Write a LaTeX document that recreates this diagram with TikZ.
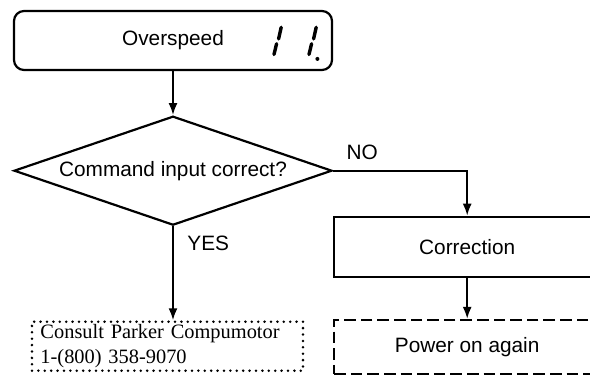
\documentclass[tikz,border=0pt]{standalone}
\usepackage{fontspec}
\setmainfont{Liberation Serif}
\setsansfont{Liberation Sans}
\usetikzlibrary{arrows.meta, positioning, shapes.geometric}

\begin{document}
\begin{tikzpicture}[
    x=1pt, y=1pt,
    box/.style={rectangle, draw, line width=1.1pt, inner sep=0pt, align=center,
                font=\sffamily\fontsize{10.4pt}{12.5pt}\selectfont},
    status/.style={box, rounded corners=5pt, minimum width=159pt, minimum height=29.5pt},
    decision/.style={box, diamond, aspect=2.92, minimum width=159pt, minimum height=54.5pt},
    action/.style={box, minimum width=133pt, minimum height=30pt},
    restart/.style={box, dash pattern=on 5.8pt off 2.5pt, minimum width=133pt,
                    minimum height=27pt},
    contact/.style={rectangle, draw, line width=1.4pt, line cap=round,
                    dash pattern=on 0pt off 3.2pt, align=left, text width=127pt,
                    inner xsep=4.25pt, inner ysep=1pt, minimum height=24.5pt,
                    font=\rmfamily\fontsize{10.2pt}{12.5pt}\selectfont},
    tag/.style={inner sep=0pt, font=\sffamily\fontsize{10.4pt}{12.5pt}\selectfont},
    seg/.style={line width=1.7pt, line cap=round},
    arrow/.style={-{Latex[length=6pt,width=4.5pt]}, line width=1pt},
]
    \useasboundingbox (-86.5,20.25) rectangle (208.5,-167.25);

    \node[status]   (ovs)  at (0,0)                          {Overspeed};
    \node[decision] (cmd)  [below=22pt of ovs]               {Command input correct?};
    \node[action]   (fix)  [below right=22.5pt and 0pt of cmd.east] {Correction};
    \node[restart]  (pwr)  [below=20.5pt of fix]             {Power on again};
    \node[contact]  (call) [below=47pt of cmd, xshift=-2.75pt]
        {Consult Parker Compumotor\\1-(800) 358-9070};

    \node[tag, anchor=south west] (no)  [above right=5.5pt and 6.5pt of cmd.east] {NO};
    \node[tag, anchor=north west] (yes) [below right=4.5pt and 7pt of cmd.south]  {YES};

    % display segments
    \foreach \dx in {0,17.5} {
        \draw[seg] (54.1+\dx,6.6)  -- (52.8+\dx,0.8);
        \draw[seg] (51.8+\dx,-1.6) -- (50.5+\dx,-7);
    }
    \fill (72.2,-9.2) circle (1pt);

    \draw[arrow] (ovs) -- (cmd);
    \draw[arrow] (cmd.east) -| (fix.north);
    \draw[arrow] (fix) -- (pwr);
    \draw[arrow] (cmd.south) -- (cmd.south |- call.north);
\end{tikzpicture}
\end{document}
